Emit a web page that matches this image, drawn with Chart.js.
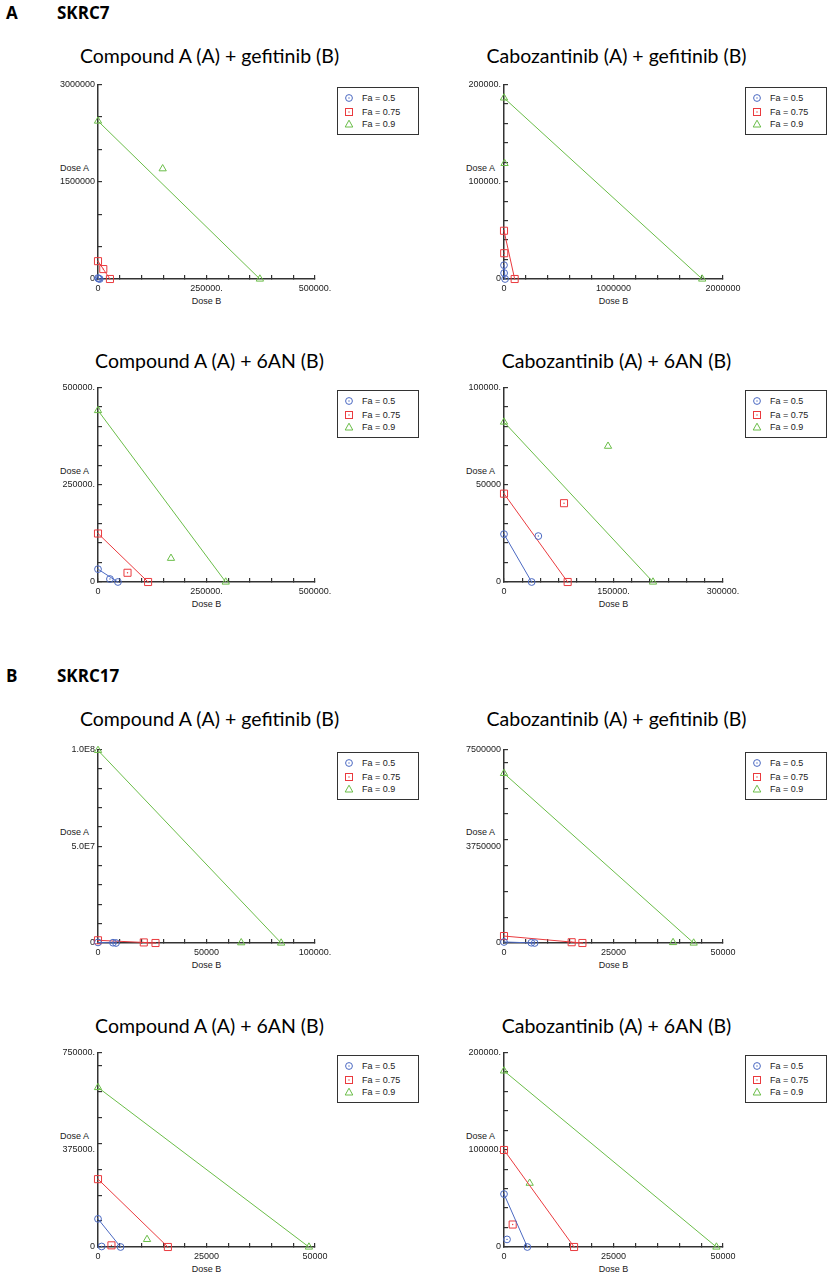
<!DOCTYPE html>
<html>
<head>
<meta charset="utf-8">
<script src="https://cdn.jsdelivr.net/npm/chart.js@4.4.1/dist/chart.umd.min.js"></script>
<style>
  body { margin:0; background:#fff; width:829px; height:1274px; position:relative; overflow:hidden; }
  .head { position:absolute; font:700 17px "Open Sans", sans-serif; color:#000; line-height:1; }
  .title { position:absolute; font:400 19.5px Lato, sans-serif; color:#000; white-space:nowrap; transform:translate(-50%,-50%); }
  .lab { position:absolute; font:9px "Liberation Sans", Arial, sans-serif; color:#222; white-space:nowrap; }
  .legend { position:absolute; width:82px; height:48px; border:1.5px solid #333; box-sizing:border-box; background:#fff; }
  .legend div { position:absolute; left:24px; font:9px "Liberation Sans", Arial, sans-serif; color:#222; transform:translateY(-50%); }
  .legend svg { position:absolute; left:5px; }
</style>
</head>
<body>
<script>
const faLabels = ['Fa = 0.5', 'Fa = 0.75', 'Fa = 0.9'];
const faColors = ['#4b69c2', '#ea3a3e', '#6abd48'];

// SKRC7: Compound A (A) + gefitinib (B)
const a1DoseA = [15000, 275000, 2435000];
const a1DoseB = [4000, 27500, 373000];
const a1ComboA = [6000, 153000, 1700000];
const a1ComboB = [1500, 12200, 149000];
const a1XLabels = ['0', '250000.', '500000.'];
const a1YLabels = ['0', '1500000', '3000000'];

// SKRC7: Cabozantinib (A) + gefitinib (B)
const a2DoseA = [14200, 49600, 186100];
const a2DoseB = [10000, 97400, 1810000];
const a2ComboA = [6100, 26500, 118800];
const a2ComboB = [1000, 2000, 5000];
const a2XLabels = ['0', '1000000', '2000000'];
const a2YLabels = ['0', '100000.', '200000.'];

// SKRC7: Compound A (A) + 6AN (B)
const a3DoseA = [33000, 124600, 440700];
const a3DoseB = [45900, 115400, 294300];
const a3ComboA = [7600, 23700, 61000];
const a3ComboB = [27500, 68000, 168200];
const a3XLabels = ['0', '250000.', '500000.'];
const a3YLabels = ['0', '250000.', '500000.'];

// SKRC7: Cabozantinib (A) + 6AN (B)
const a4DoseA = [24600, 45400, 82200];
const a4DoseB = [37900, 87200, 204100];
const a4ComboA = [23600, 40500, 69800];
const a4ComboB = [47000, 82200, 142500];
const a4XLabels = ['0', '150000.', '300000.'];
const a4YLabels = ['0', '50000', '100000.'];

// SKRC17: Compound A (A) + gefitinib (B)
const b1DoseA = [300000, 1400000, 99500000];
const b1DoseB = [8300, 26500, 84400];
const b1ComboA = [150000, 300000, 150000];
const b1ComboB = [6900, 21100, 66000];
const b1XLabels = ['0', '50000', '100000.'];
const b1YLabels = ['0', '5.0E7', '1.0E8'];

// SKRC17: Cabozantinib (A) + gefitinib (B)
const b2DoseA = [40000, 269000, 6570000];
const b2DoseB = [7000, 17900, 43300];
const b2ComboA = [10000, 30000, 20000];
const b2ComboB = [6240, 15450, 38600];
const b2XLabels = ['0', '25000', '50000'];
const b2YLabels = ['0', '3750000', '7500000'];

// SKRC17: Compound A (A) + 6AN (B)
const b3DoseA = [108400, 261500, 614800];
const b3DoseB = [5200, 16100, 48600];
const b3ComboA = [2000, 6400, 29300];
const b3ComboB = [840, 3100, 11300];
const b3XLabels = ['0', '25000', '50000'];
const b3YLabels = ['0', '375000.', '750000.'];

// SKRC17: Cabozantinib (A) + 6AN (B)
const b4DoseA = [54400, 99700, 181000];
const b4DoseB = [5330, 16000, 48500];
const b4ComboA = [7800, 23100, 65600];
const b4ComboB = [690, 1980, 5860];
const b4XLabels = ['0', '25000', '50000'];
const b4YLabels = ['0', '100000.', '200000.'];

const panels = [
  { title: 'Compound A (A) + gefitinib (B)', box: [98, 82, 315, 279], titleY: 55, doseA: a1DoseA, doseB: a1DoseB, comboA: a1ComboA, comboB: a1ComboB, xLabels: a1XLabels, yLabels: a1YLabels, xStep: 50000, yStep: 500000 },
  { title: 'Cabozantinib (A) + gefitinib (B)', box: [504, 82, 723, 279], titleY: 55, doseA: a2DoseA, doseB: a2DoseB, comboA: a2ComboA, comboB: a2ComboB, xLabels: a2XLabels, yLabels: a2YLabels, xStep: 200000, yStep: 20000 },
  { title: 'Compound A (A) + 6AN (B)', box: [98, 385, 315, 582], titleY: 360, doseA: a3DoseA, doseB: a3DoseB, comboA: a3ComboA, comboB: a3ComboB, xLabels: a3XLabels, yLabels: a3YLabels, xStep: 50000, yStep: 50000 },
  { title: 'Cabozantinib (A) + 6AN (B)', box: [504, 385, 723, 582], titleY: 360, doseA: a4DoseA, doseB: a4DoseB, comboA: a4ComboA, comboB: a4ComboB, xLabels: a4XLabels, yLabels: a4YLabels, xStep: 25000, yStep: 10000 },
  { title: 'Compound A (A) + gefitinib (B)', box: [98, 747, 315, 943], titleY: 718, doseA: b1DoseA, doseB: b1DoseB, comboA: b1ComboA, comboB: b1ComboB, xLabels: b1XLabels, yLabels: b1YLabels, xStep: 10000, yStep: 10000000 },
  { title: 'Cabozantinib (A) + gefitinib (B)', box: [504, 747, 723, 943], titleY: 718, doseA: b2DoseA, doseB: b2DoseB, comboA: b2ComboA, comboB: b2ComboB, xLabels: b2XLabels, yLabels: b2YLabels, xStep: 5000, yStep: 1000000 },
  { title: 'Compound A (A) + 6AN (B)', box: [98, 1050, 315, 1247], titleY: 1025, doseA: b3DoseA, doseB: b3DoseB, comboA: b3ComboA, comboB: b3ComboB, xLabels: b3XLabels, yLabels: b3YLabels, xStep: 5000, yStep: 100000 },
  { title: 'Cabozantinib (A) + 6AN (B)', box: [504, 1050, 723, 1247], titleY: 1025, doseA: b4DoseA, doseB: b4DoseB, comboA: b4ComboA, comboB: b4ComboB, xLabels: b4XLabels, yLabels: b4YLabels, xStep: 5000, yStep: 20000 }
];

const shapes = ['circle', 'rect', 'triangle'];
const radii = [3.4, 5, 4.2];

function addDiv(cls, text, css) {
  const d = document.createElement('div');
  d.className = cls;
  d.textContent = text;
  d.style.cssText = css;
  document.body.appendChild(d);
  return d;
}

addDiv('head', 'A', 'left:6px;top:4px');
addDiv('head', 'SKRC7', 'left:57px;top:4px');
addDiv('head', 'B', 'left:6px;top:667px');
addDiv('head', 'SKRC17', 'left:57px;top:667px');

function symbolSvg(i) {
  const c = faColors[i];
  let s;
  if (i === 0) s = `<circle cx="6" cy="6" r="3.4" fill="none" stroke="${c}"/>`;
  else if (i === 1) s = `<rect x="2.5" y="2.5" width="7" height="7" fill="none" stroke="${c}"/>`;
  else s = `<polygon points="6,2.2 9.8,9 2.2,9" fill="none" stroke="${c}"/>`;
  const dot = i < 2 ? `<circle cx="6" cy="6" r="0.7" fill="${c}"/>` : '';
  return `<svg width="12" height="12" style="top:${[4, 17.5, 30][i]}px">${s}${dot}</svg>`;
}

function tickValues(max, step) {
  const t = [];
  for (let i = 0; i * step < max - 1e-6; i++) t.push(i * step);
  t.push(max / 2, max);
  return [...new Set(t)].sort((a, b) => a - b);
}

function buildPanel(p) {
  const [L, T, R, B] = p.box;
  const yW = 45, xH = 22, padT = 10, padR = 30;
  const xMax = Number(p.xLabels[2]), yMax = Number(p.yLabels[2]);

  addDiv('title', p.title, `left:${(L + R) / 2 + 3}px;top:${p.titleY}px`);
  addDiv('lab', 'Dose A', `left:${L - 38}px;top:${(T + B) / 2 - 18}px`);
  addDiv('lab', 'Dose B', `left:${(L + R) / 2}px;top:${B + 17}px;transform:translateX(-50%)`);

  const lg = document.createElement('div');
  lg.className = 'legend';
  lg.style.left = (R + 22) + 'px';
  lg.style.top = (T + 5) + 'px';
  lg.innerHTML = faLabels.map((t, i) => symbolSvg(i) + `<div style="top:${[10, 23.5, 36][i]}px">${t}</div>`).join('');
  document.body.appendChild(lg);

  const wrap = document.createElement('div');
  wrap.style.cssText = `position:absolute;left:${L - yW}px;top:${T - padT}px;width:${R - L + yW + padR}px;height:${B - T + padT + xH}px`;
  const cv = document.createElement('canvas');
  wrap.appendChild(cv);
  document.body.appendChild(wrap);

  const datasets = [];
  for (let i = 0; i < 3; i++) {
    const common = {
      borderColor: faColors[i], pointBorderColor: faColors[i], pointBackgroundColor: 'rgba(0,0,0,0)',
      pointStyle: shapes[i], pointRadius: radii[i], pointBorderWidth: 1, borderWidth: 1, clip: false
    };
    const linePts = [{ x: 0, y: p.doseA[i] }, { x: p.doseB[i], y: 0 }];
    const comboPts = [{ x: p.comboB[i], y: p.comboA[i] }];
    datasets.push(Object.assign({ data: linePts, showLine: true }, common));
    datasets.push(Object.assign({ data: comboPts, showLine: false }, common));
    // small centre dot inside circle and square markers
    if (i < 2) {
      datasets.push({ data: linePts.concat(comboPts), showLine: false, pointStyle: 'circle', pointRadius: 0.7,
                      pointBorderWidth: 0, pointBackgroundColor: faColors[i], clip: false });
    }
  }

  const labelFor = (v, max, labels) => {
    const k = [0, max / 2, max].indexOf(v);
    return k < 0 ? '' : labels[k];
  };
  const tickFont = { family: 'Liberation Sans', size: 9 };
  const onStep = (v, step, max) => Math.abs(v / step - Math.round(v / step)) < 1e-6 || v === max;

  new Chart(cv, {
    type: 'scatter',
    data: { datasets },
    options: {
      responsive: true, maintainAspectRatio: false, animation: false,
      layout: { padding: { top: padT, right: padR, left: 0, bottom: 0 } },
      plugins: { legend: { display: false }, tooltip: { enabled: false } },
      scales: {
        x: {
          type: 'linear', min: 0, max: xMax,
          afterBuildTicks: s => { s.ticks = tickValues(xMax, p.xStep).map(v => ({ value: v })); },
          afterFit: s => { s.height = xH; },
          ticks: { autoSkip: false, maxRotation: 0, padding: 8, color: '#222', font: tickFont,
                   callback: v => labelFor(v, xMax, p.xLabels) },
          grid: { drawOnChartArea: false, tickLength: -4, lineWidth: 1.2,
                  color: c => (c.tick && onStep(c.tick.value, p.xStep, xMax)) ? '#333' : 'rgba(0,0,0,0)' },
          border: { color: '#333', width: 1.5 }
        },
        y: {
          type: 'linear', min: 0, max: yMax,
          afterBuildTicks: s => { s.ticks = tickValues(yMax, p.yStep).map(v => ({ value: v })); },
          afterFit: s => { s.width = yW; },
          ticks: { autoSkip: false, padding: 7, color: '#222', font: tickFont,
                   callback: v => labelFor(v, yMax, p.yLabels) },
          grid: { drawOnChartArea: false, tickLength: -4, lineWidth: 1.2,
                  color: c => (c.tick && onStep(c.tick.value, p.yStep, yMax)) ? '#333' : 'rgba(0,0,0,0)' },
          border: { color: '#333', width: 1.5 }
        }
      }
    }
  });
}

panels.forEach(buildPanel);
</script>
</body>
</html>
